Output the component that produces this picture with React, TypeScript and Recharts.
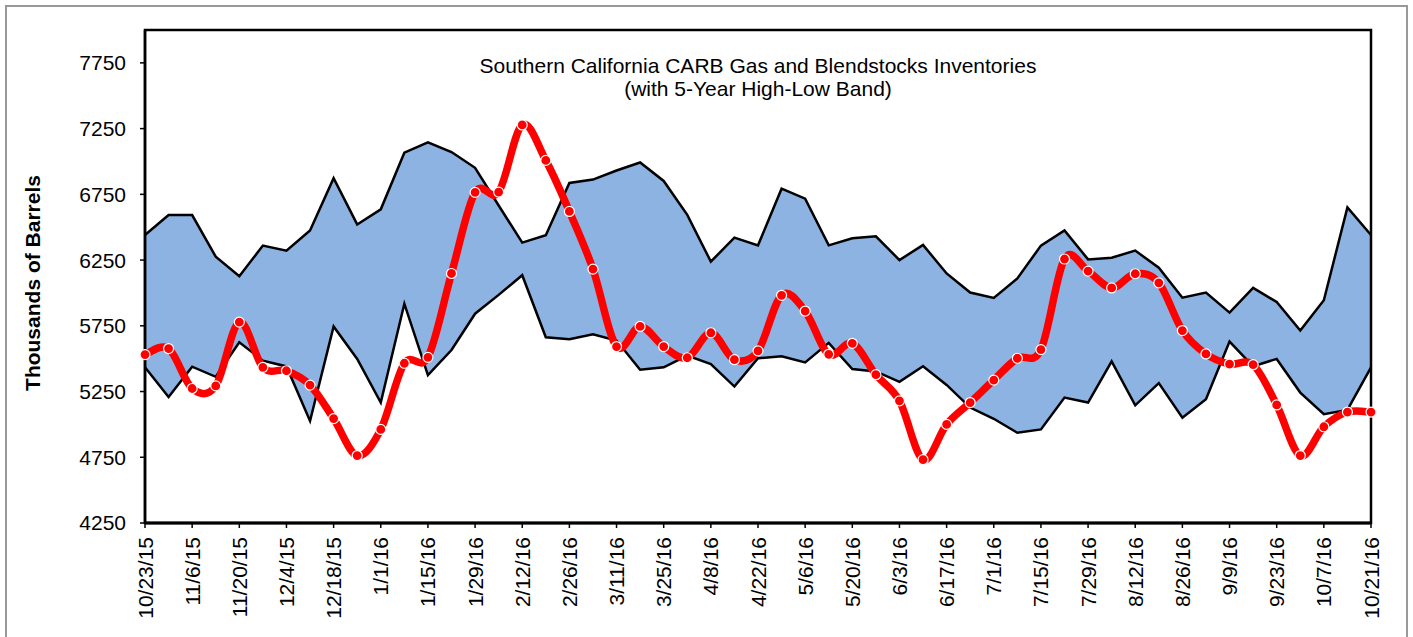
import React from "react";
import {
  ComposedChart,
  Area,
  Line,
  XAxis,
  YAxis,
  ReferenceArea,
} from "recharts";

const dates = [
  "10/23/15", "10/30/15", "11/6/15", "11/13/15", "11/20/15", "11/27/15",
  "12/4/15", "12/11/15", "12/18/15", "12/25/15", "1/1/16", "1/8/16",
  "1/15/16", "1/22/16", "1/29/16", "2/5/16", "2/12/16", "2/19/16",
  "2/26/16", "3/4/16", "3/11/16", "3/18/16", "3/25/16", "4/1/16",
  "4/8/16", "4/15/16", "4/22/16", "4/29/16", "5/6/16", "5/13/16",
  "5/20/16", "5/27/16", "6/3/16", "6/10/16", "6/17/16", "6/24/16",
  "7/1/16", "7/8/16", "7/15/16", "7/22/16", "7/29/16", "8/5/16",
  "8/12/16", "8/19/16", "8/26/16", "9/2/16", "9/9/16", "9/16/16",
  "9/23/16", "9/30/16", "10/7/16", "10/14/16", "10/21/16",
];

// 5-year high / low band
const high5yr = [
  6441, 6592, 6592, 6276, 6127, 6360, 6322, 6475, 6873, 6521, 6636, 7067,
  7146, 7072, 6952, 6665, 6383, 6439, 6837, 6862, 6931, 6992, 6852, 6594,
  6238, 6421, 6362, 6793, 6717, 6362, 6416, 6431, 6250, 6365, 6148, 6003,
  5962, 6110, 6360, 6475, 6255, 6268, 6322, 6192, 5964, 6003, 5850, 6038,
  5931, 5714, 5944, 6651, 6441,
];
const low5yr = [
  5434, 5209, 5439, 5362, 5625, 5485, 5441, 5026, 5745, 5498, 5166, 5918,
  5375, 5566, 5842, 5985, 6135, 5663, 5648, 5686, 5638, 5416, 5434, 5523,
  5459, 5288, 5503, 5518, 5472, 5620, 5421, 5403, 5324, 5442, 5300, 5128,
  5043, 4936, 4962, 5204, 5166, 5480, 5145, 5314, 5051, 5191, 5630, 5442,
  5498, 5242, 5077, 5110, 5434,
];
// current year inventories
const current = [
  5531, 5577, 5273, 5293, 5778, 5434, 5408, 5299, 5044, 4763, 4962, 5465,
  5510, 6148, 6765, 6767, 7278, 7008, 6620, 6181, 5592, 5745, 5592, 5507,
  5697, 5492, 5559, 5982, 5862, 5533, 5617, 5378, 5179, 4732, 5000, 5166,
  5337, 5503, 5569, 6258, 6166, 6038, 6146, 6077, 5714, 5536, 5459, 5454,
  5148, 4763, 4982, 5094, 5094,
];

const yTicks = [4250, 4750, 5250, 5750, 6250, 6750, 7250, 7750];

const data = dates.map((date, i) => ({
  date,
  high: high5yr[i],
  low: low5yr[i],
  band: [low5yr[i], high5yr[i]],
  current: current[i],
}));

const FONT = "'Liberation Sans', Arial, sans-serif";

// excel-like smoothed line (catmull-rom through the points)
const smoothCurve = (context: any) => {
  let pts: [number, number][] = [];
  return {
    areaStart() {},
    areaEnd() {},
    lineStart() {
      pts = [];
    },
    point(x: number, y: number) {
      pts.push([+x, +y]);
    },
    lineEnd() {
      if (!pts.length) return;
      context.moveTo(pts[0][0], pts[0][1]);
      for (let i = 0; i < pts.length - 1; i++) {
        const p0 = pts[i - 1] || pts[i];
        const p1 = pts[i];
        const p2 = pts[i + 1];
        const p3 = pts[i + 2] || p2;
        context.bezierCurveTo(
          p1[0] + (p2[0] - p0[0]) / 6,
          p1[1] + (p2[1] - p0[1]) / 6,
          p2[0] - (p3[0] - p1[0]) / 6,
          p2[1] - (p3[1] - p1[1]) / 6,
          p2[0],
          p2[1]
        );
      }
    },
  };
};

const DateTick = (props: any) => {
  const { x, y, payload } = props;
  return (
    <text
      transform={`translate(${x},${y}) rotate(-90)`}
      textAnchor="end"
      dy="0.36em"
      fontSize={21}
      fontFamily={FONT}
      fill="#000"
    >
      {payload.value}
    </text>
  );
};

export default function App() {
  return (
    <div
      style={{
        position: "absolute",
        left: 0,
        top: 0,
        width: 1413,
        height: 637,
        background: "#fff",
        overflow: "hidden",
        fontFamily: FONT,
      }}
    >
      <div
        style={{
          position: "absolute",
          left: 5,
          top: 5,
          width: 1399,
          height: 650,
          border: "2px solid #999",
        }}
      />
      <ComposedChart
        width={1413}
        height={637}
        data={data}
        margin={{ top: 30, right: 42, bottom: 0, left: 0 }}
        style={{ position: "absolute", left: 0, top: 0 }}
      >
        <XAxis
          dataKey="date"
          scale="point"
          interval={1}
          height={114}
          tickSize={5}
          tickMargin={9}
          tick={<DateTick />}
          axisLine={{ stroke: "#000", strokeWidth: 3 }}
          tickLine={{ stroke: "#000", strokeWidth: 1.5 }}
        />
        <YAxis
          width={145}
          domain={[4250, 8000]}
          ticks={yTicks}
          allowDataOverflow
          tickSize={5}
          tickMargin={14}
          tick={{ fontSize: 21, fill: "#000", fontFamily: FONT }}
          axisLine={{ stroke: "#000", strokeWidth: 2.5 }}
          tickLine={{ stroke: "#000", strokeWidth: 1.5 }}
        />
        <Area
          dataKey="band"
          type="linear"
          fill="#8db3e2"
          fillOpacity={1}
          stroke="none"
          isAnimationActive={false}
        />
        <Line
          dataKey="high"
          type="linear"
          stroke="#000"
          strokeWidth={2.5}
          dot={false}
          isAnimationActive={false}
        />
        <Line
          dataKey="low"
          type="linear"
          stroke="#000"
          strokeWidth={2.5}
          dot={false}
          isAnimationActive={false}
        />
        <ReferenceArea
          x1={dates[0]}
          x2={dates[dates.length - 1]}
          y1={4250}
          y2={8000}
          fill="none"
          stroke="#000"
          strokeWidth={2.5}
        />
        <Line
          dataKey="current"
          type={smoothCurve as any}
          stroke="#ff0000"
          strokeWidth={7.5}
          dot={{ r: 5, fill: "#ff0000", stroke: "#fff", strokeWidth: 1.2 }}
          isAnimationActive={false}
        />
      </ComposedChart>
      <div
        style={{
          position: "absolute",
          left: 758,
          top: 54,
          transform: "translateX(-50%)",
          textAlign: "center",
          fontSize: 21,
          lineHeight: "23px",
          whiteSpace: "nowrap",
          color: "#000",
        }}
      >
        Southern California CARB Gas and Blendstocks Inventories
        <br />
        (with 5-Year High-Low Band)
      </div>
      <div
        style={{
          position: "absolute",
          left: 32,
          top: 283,
          transform: "translate(-50%, -50%) rotate(-90deg)",
          fontSize: 21,
          fontWeight: "bold",
          lineHeight: 1,
          whiteSpace: "nowrap",
          color: "#000",
        }}
      >
        Thousands of Barrels
      </div>
    </div>
  );
}
